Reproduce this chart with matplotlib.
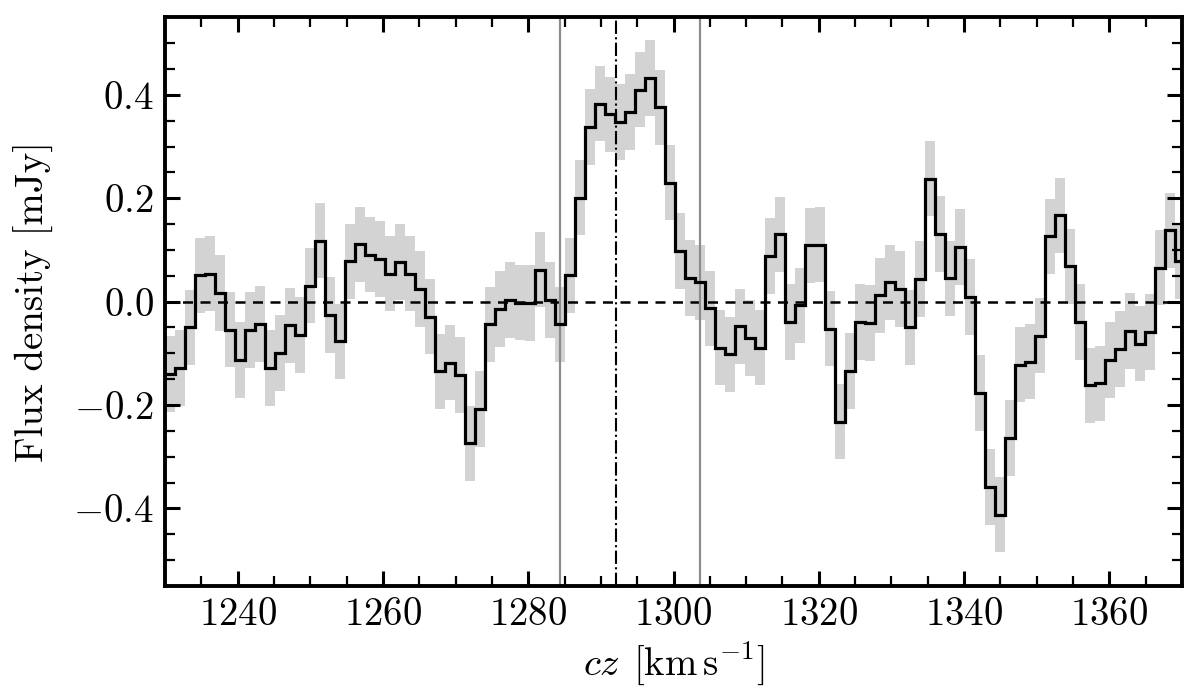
import numpy as np
import matplotlib
matplotlib.use("Agg")
import matplotlib.pyplot as plt

# channel grid of the spectrum (km/s)
v_start = 1230.0
chan_width = 1.377

# flux density per channel (mJy)
flux = [-0.140, -0.128, -0.050, 0.051, 0.054, 0.017, -0.054, -0.113, -0.055, -0.043,
        -0.128, -0.099, -0.046, -0.065, 0.031, 0.118, -0.026, -0.077, 0.078, 0.111,
        0.091, 0.082, 0.054, 0.077, 0.054, 0.024, -0.029, -0.135, -0.118, -0.142,
        -0.274, -0.208, -0.044, -0.014, 0.003, -0.002, -0.003, 0.062, 0.003, -0.044,
        0.051, 0.201, 0.338, 0.383, 0.362, 0.347, 0.367, 0.410, 0.433, 0.376,
        0.230, 0.098, 0.046, 0.037, -0.013, -0.089, -0.102, -0.048, -0.070, -0.089,
        0.088, 0.130, -0.039, -0.007, 0.109, 0.110, -0.052, -0.232, -0.134, -0.039,
        -0.041, 0.012, 0.037, 0.024, -0.050, 0.044, 0.238, 0.131, 0.045, 0.106,
        0.009, -0.177, -0.359, -0.412, -0.264, -0.122, -0.116, -0.066, 0.126, 0.167,
        0.068, -0.039, -0.162, -0.158, -0.113, -0.092, -0.057, -0.081, -0.059, 0.066,
        0.138, 0.078]
rms = 0.073

# line window and systemic velocity
v_lo, v_hi = 1284.4, 1303.7
v_sys = 1292.1

plt.rcParams['font.family'] = 'serif'
plt.rcParams['font.serif'] = ['cmr10']
plt.rcParams['mathtext.fontset'] = 'cm'
plt.rcParams['axes.formatter.use_mathtext'] = True
plt.rcParams['font.size'] = 28


def plot_spectrum():
    flux_arr = np.array(flux)
    edges = v_start + chan_width * np.arange(len(flux_arr) + 1)

    fig = plt.figure(figsize=(12, 6.97), dpi=100)
    ax = fig.add_axes([0.1375, 0.1593, 0.8475, 0.8159])

    ax.stairs(flux_arr + rms, edges, baseline=flux_arr - rms, fill=True,
              color='#d3d3d3', lw=0, zorder=1)
    ax.stairs(flux_arr, edges, baseline=None, color='black', lw=2.3, zorder=3)

    ax.axhline(0, color='black', ls=(0, (4, 3)), lw=1.8, zorder=2)
    ax.axvline(v_lo, color='#8c8c8c', lw=1.6, zorder=2)
    ax.axvline(v_hi, color='#8c8c8c', lw=1.6, zorder=2)
    ax.axvline(v_sys, color='black', ls='-.', lw=1.5, zorder=2)

    ax.set_xlim(1230, 1370)
    ax.set_ylim(-0.55, 0.55)
    ax.set_xticks(np.arange(1240, 1370, 20))
    ax.set_xticks(np.arange(1235, 1370, 5), minor=True)
    ax.set_yticks([-0.4, -0.2, 0.0, 0.2, 0.4])
    ax.set_yticks(np.arange(-0.5, 0.55, 0.05), minor=True)

    ax.tick_params(which='both', direction='in', top=True, right=True)
    ax.tick_params(which='major', length=11, width=2.2, pad=8, labelsize=28)
    ax.tick_params(which='minor', length=7, width=1.6)
    for sp in ax.spines.values():
        sp.set_linewidth(2.8)

    ax.set_xlabel(r'$cz\;\,[\mathrm{km\,s^{-1}}]$', fontsize=28, labelpad=5)
    ax.set_ylabel('Flux density [mJy]', fontsize=28, labelpad=14)

    fig.savefig('out.png', dpi=100)


if __name__ == "__main__":
    plot_spectrum()
